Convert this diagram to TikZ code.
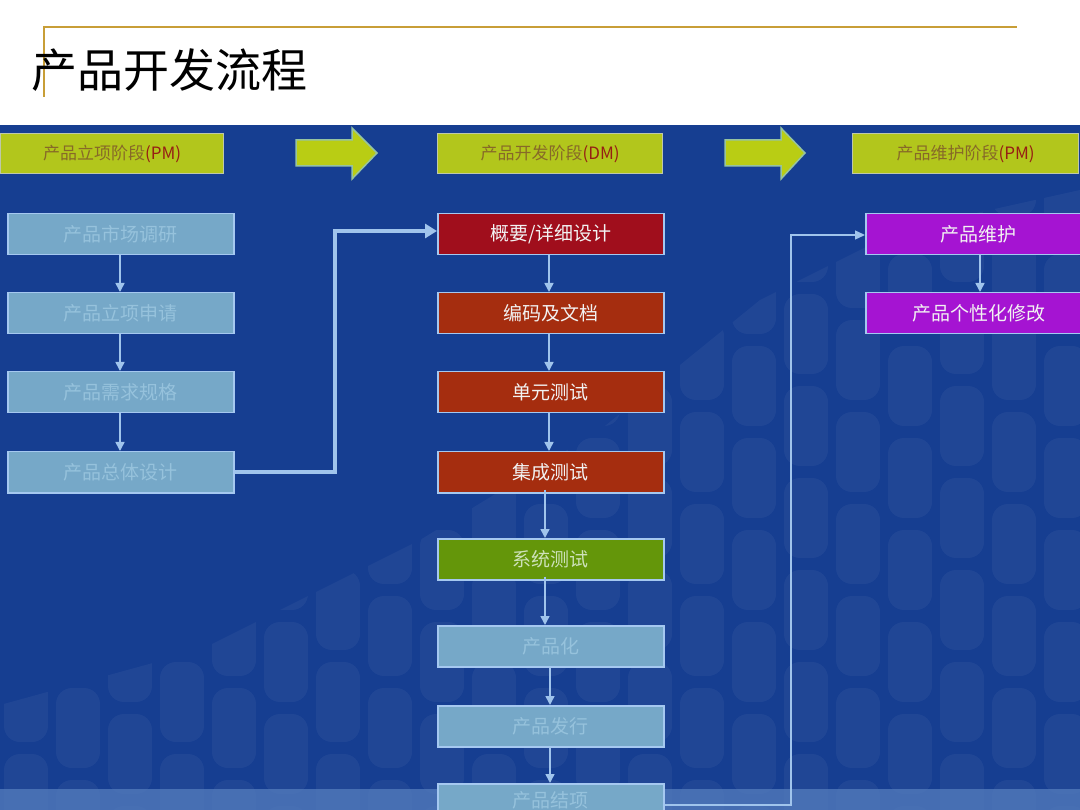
\documentclass[tikz,border=0pt]{standalone}
\usepackage{fontspec}
\setmainfont{Noto Sans CJK SC}
\newfontfamily\cjk{Noto Sans CJK SC}
\usetikzlibrary{arrows.meta}
\definecolor{bgblue}{RGB}{22,62,145}
\definecolor{bandblue}{RGB}{85,125,190}
\definecolor{gold}{RGB}{200,158,55}
\definecolor{hdrfill}{RGB}{178,198,28}
\definecolor{hdrdraw}{RGB}{190,200,170}
\definecolor{hdrtext}{RGB}{135,105,40}
\definecolor{hdrred}{RGB}{150,30,20}
\definecolor{paleFill}{RGB}{118,168,200}
\definecolor{paleDraw}{RGB}{165,200,240}
\definecolor{paleText}{RGB}{150,194,220}
\definecolor{redA}{RGB}{160,14,28}
\definecolor{redB}{RGB}{165,45,15}
\definecolor{greenA}{RGB}{100,150,10}
\definecolor{magA}{RGB}{165,20,210}
\definecolor{linkc}{RGB}{160,196,236}
\definecolor{arrowfill}{RGB}{185,205,20}
\definecolor{arrowdraw}{RGB}{150,195,160}
\tikzset{
  hdr/.style={draw=hdrdraw, line width=1.2pt, fill=hdrfill, minimum height=40pt, inner sep=0pt, font=\fontsize{17}{17}\selectfont, text=hdrtext},
  stepbox/.style={draw=paleDraw, line width=1.5pt, minimum width=226pt, minimum height=41pt, inner sep=0pt, font=\fontsize{19}{19}\selectfont},
  pale/.style={stepbox, fill=paleFill, text=paleText},
  hot/.style={stepbox, fill=#1, text=white!90!gray},
  link/.style={draw=linkc, line width=1.6pt, -{Triangle[width=9pt,length=9pt]}},
  thick link/.style={draw=linkc, line width=4pt, -{Triangle[width=14pt,length=12pt]}},
  thin link/.style={draw=linkc, line width=1.3pt, -{Triangle[width=9pt,length=10pt]}},
  bigarrow/.style={fill=arrowfill, draw=arrowdraw, line width=1.5pt}
}
\begin{document}
\begin{tikzpicture}[x=1pt,y=-1pt]
\useasboundingbox (0,0) rectangle (1080,810);
\clip (0,0) rectangle (1080,810);
% white top
\fill[white] (0,0) rectangle (1080,125);
% title
\draw[gold, line width=1.6pt] (44,97) -- (44,27) -- (1017,27);
\node[anchor=base west, inner sep=0pt, font=\fontsize{46}{46}\selectfont\cjk] (title) at (31,88) {产品开发流程};
% blue background
\fill[bgblue] (0,125) rectangle (1080,810);
\begin{scope}
  \clip (0,705) -- (200,650) -- (420,540) -- (600,430) -- (760,300) -- (900,230) -- (1080,190) -- (1080,810) -- (0,810) -- cycle;
  \foreach \i in {0,...,21} {
    \foreach \j in {0,...,8} {
      \fill[white, opacity=0.045, rounded corners=16pt]
        ({\i*52+4}, {\j*92 + mod(\i,3)*26 + 110}) rectangle ++(44,80);
    }
  }
\end{scope}
\fill[bandblue, opacity=0.75] (0,789) rectangle (1080,810);
% header boxes
\node[hdr, minimum width=223pt, anchor=north west] (h1) at (0,133) {产品立项阶段\textcolor{hdrred}{(PM)}};
\node[hdr, minimum width=225pt, anchor=north west] (h2) at (437,133) {产品开发阶段\textcolor{hdrred}{(DM)}};
\node[hdr, minimum width=226pt, anchor=north west] (h3) at (852,133) {产品维护阶段\textcolor{hdrred}{(PM)}};
% big arrows
\draw[bigarrow] (296,140) -- (352,140) -- (352,128) -- (377,153) -- (352,179) -- (352,166) -- (296,166) -- cycle;
\draw[bigarrow] (725,140) -- (781,140) -- (781,128) -- (805,153) -- (781,179) -- (781,166) -- (725,166) -- cycle;
% left column
\node[pale, anchor=north west] (a1) at (7,213) {产品市场调研};
\node[pale, anchor=north west] (a2) at (7,292) {产品立项申请};
\node[pale, anchor=north west] (a3) at (7,371) {产品需求规格};
\node[pale, anchor=north west] (a4) at (7,451) {产品总体设计};
\draw[link] (a1.south -| 120,0) -- (a2.north -| 120,0);
\draw[link] (a2.south -| 120,0) -- (a3.north -| 120,0);
\draw[link] (a3.south -| 120,0) -- (a4.north -| 120,0);
% middle column
\node[hot=redA, anchor=north west] (b1) at (437,213) {概要/详细设计};
\node[hot=redB, anchor=north west] (b2) at (437,292) {编码及文档};
\node[hot=redB, anchor=north west] (b3) at (437,371) {单元测试};
\node[hot=redB, anchor=north west] (b4) at (437,451) {集成测试};
\node[stepbox, fill=greenA, text={rgb,255:red,205;green,225;blue,185}, anchor=north west] (b5) at (437,538) {系统测试};
\node[pale, anchor=north west] (b6) at (437,625) {产品化};
\node[pale, anchor=north west] (b7) at (437,705) {产品发行};
\node[pale, anchor=north west, minimum height=34pt] (b8) at (437,783) {产品结项};
\draw[link] (b1.south -| 549,0) -- (b2.north -| 549,0);
\draw[link] (b2.south -| 549,0) -- (b3.north -| 549,0);
\draw[link] (b3.south -| 549,0) -- (b4.north -| 549,0);
\draw[link] ([yshift=4pt]b4.south -| 545,0) -- (b5.north -| 545,0);
\draw[link] ([yshift=4pt]b5.south -| 545,0) -- (b6.north -| 545,0);
\draw[link] (b6.south -| 550,0) -- (b7.north -| 550,0);
\draw[link] (b7.south -| 550,0) -- (b8.north -| 550,0);
% right column
\node[hot=magA, anchor=north west] (c1) at (865,213) {产品维护};
\node[hot=magA, anchor=north west] (c2) at (865,292) {产品个性化修改};
\draw[link] (c1.south -| 980,0) -- (c2.north -| 980,0);
% cross-column connectors
\coordinate (k1) at (335,472);
\coordinate (k2) at (335,231);
\draw[thick link, line join=miter] (a4.east |- k1) -- (k1) -- (k2) -- (b1.west |- k2);
\coordinate (m1) at (791,805);
\coordinate (m2) at (791,235);
\draw[thin link] (b8.east |- m1) -- (m1) -- (m2) -- (c1.west |- m2);
\end{tikzpicture}
\end{document}
